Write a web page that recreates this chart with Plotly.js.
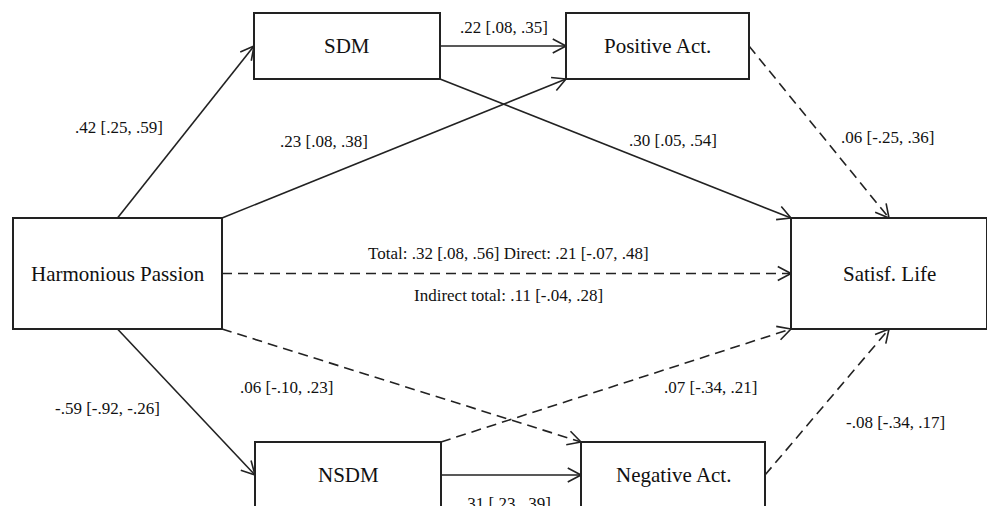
<!DOCTYPE html>
<html>
<head>
<meta charset="utf-8">
<script src="https://cdn.plot.ly/plotly-3.0.1.min.js"></script>
<style>html,body{margin:0;padding:0;background:#fff;}#chart{width:987px;height:506px;}</style>
</head>
<body>
<div id="chart"></div>
<script>
// ---- DATA ----
const nodeNames = ['Harmonious Passion', 'SDM', 'Positive Act.', 'NSDM', 'Negative Act.', 'Satisf. Life'];
const edgeFrom = ['Harmonious Passion', 'Harmonious Passion', 'SDM', 'SDM', 'Positive Act.', 'Harmonious Passion', 'Harmonious Passion', 'Harmonious Passion', 'NSDM', 'NSDM', 'Negative Act.'];
const edgeTo   = ['SDM', 'Positive Act.', 'Positive Act.', 'Satisf. Life', 'Satisf. Life', 'Satisf. Life', 'NSDM', 'Negative Act.', 'Negative Act.', 'Satisf. Life', 'Satisf. Life'];
const edgeEst  = [0.42, 0.23, 0.22, 0.30, 0.06, 0.21, -0.59, 0.06, 0.31, 0.07, -0.08];
const edgeLo   = [0.25, 0.08, 0.08, 0.05, -0.25, -0.07, -0.92, -0.10, 0.23, -0.34, -0.34];
const edgeHi   = [0.59, 0.38, 0.35, 0.54, 0.36, 0.48, -0.26, 0.23, 0.39, 0.21, 0.17];
const totalEffect    = [0.32, 0.08, 0.56];
const indirectEffect = [0.11, -0.04, 0.28];

// ---- LAYOUT (positions, not data) ----
const boxes = {
  'Harmonious Passion': [13, 222, 218, 329],
  'SDM': [254, 440, 13, 79],
  'Positive Act.': [566, 749, 13, 79],
  'NSDM': [255, 441, 442, 508],
  'Negative Act.': [581, 765, 442, 508],
  'Satisf. Life': [791, 987, 218, 329]
};
const ports = [ ['t','l'], ['tr','bl'], ['r','l'], ['br','tl'], ['r','t'], ['r','l'], ['b','l'], ['br','tl'], ['r','l'], ['tr','bl'], ['r','b'] ];
const labelPos = [[119,127],[324,141],[504,27],[673,140],[887,137],null,[107,408],[286,387],[507,503],[710,387],[895,422]];

function port(name, p) {
  const b = boxes[name];
  const cx = (b[0]+b[1])/2, cy = (b[2]+b[3])/2;
  return {t:[cx,b[2]], b:[cx,b[3]], l:[b[0],cy], r:[b[1],cy], tl:[b[0],b[2]], tr:[b[1],b[2]], bl:[b[0],b[3]], br:[b[1],b[3]]}[p];
}
function fmt(v) { return v.toFixed(2).replace(/^(-?)0\./, '$1.'); }
function lab(e, lo, hi) { return fmt(e) + ' [' + fmt(lo) + ', ' + fmt(hi) + ']'; }

const ink = '#222222';
const traces = [];
const annotations = [];
const shapes = [];

nodeNames.forEach(n => {
  const b = boxes[n];
  shapes.push({type:'rect', xref:'x', yref:'y', x0:b[0], x1:b[1], y0:b[2], y1:b[3], line:{color:ink, width:2}, fillcolor:'rgba(0,0,0,0)', layer:'above'});
  annotations.push({x:(b[0]+b[1])/2, y:(b[2]+b[3])/2, text:n, showarrow:false, xref:'x', yref:'y', font:{family:'Liberation Serif', size:21, color:'#111'}});
});

edgeFrom.forEach((f, i) => {
  const p0 = port(f, ports[i][0]);
  const p1 = port(edgeTo[i], ports[i][1]);
  const sig = (edgeLo[i] > 0) || (edgeHi[i] < 0);
  traces.push({x:[p0[0], p1[0]], y:[p0[1], p1[1]], mode:'lines', hoverinfo:'skip', showlegend:false,
    line:{color:ink, width:1.6, dash: sig ? 'solid' : '10px,6px'}});
  // open arrowhead
  const ang = Math.atan2(p1[1]-p0[1], p1[0]-p0[0]);
  const L = 15, a = 28*Math.PI/180;
  const ax1 = [p1[0]-L*Math.cos(ang-a), p1[1]-L*Math.sin(ang-a)];
  const ax2 = [p1[0]-L*Math.cos(ang+a), p1[1]-L*Math.sin(ang+a)];
  traces.push({x:[ax1[0], p1[0], ax2[0]], y:[ax1[1], p1[1], ax2[1]], mode:'lines', hoverinfo:'skip', showlegend:false,
    line:{color:ink, width:1.6}});
  if (labelPos[i]) {
    annotations.push({x:labelPos[i][0], y:labelPos[i][1], text:lab(edgeEst[i], edgeLo[i], edgeHi[i]), showarrow:false, xref:'x', yref:'y',
      font:{family:'Liberation Serif', size:17, color:'#111'}});
  }
});

const di = edgeTo.findIndex((t, i) => t === 'Satisf. Life' && edgeFrom[i] === 'Harmonious Passion');
annotations.push({x:508, y:253, text:'Total: ' + lab(totalEffect[0], totalEffect[1], totalEffect[2]) + ' Direct: ' + lab(edgeEst[di], edgeLo[di], edgeHi[di]),
  showarrow:false, xref:'x', yref:'y', font:{family:'Liberation Serif', size:17, color:'#111'}});
annotations.push({x:508, y:295, text:'Indirect total: ' + lab(indirectEffect[0], indirectEffect[1], indirectEffect[2]),
  showarrow:false, xref:'x', yref:'y', font:{family:'Liberation Serif', size:17, color:'#111'}});

const layout = {
  width:987, height:506,
  margin:{l:0, r:0, t:0, b:0},
  paper_bgcolor:'#ffffff', plot_bgcolor:'#ffffff',
  xaxis:{range:[0,987], visible:false, fixedrange:true},
  yaxis:{range:[506,0], visible:false, fixedrange:true},
  shapes: shapes,
  annotations: annotations,
  showlegend:false
};
Plotly.newPlot('chart', traces, layout, {staticPlot:true, displayModeBar:false});
</script>
</body>
</html>
